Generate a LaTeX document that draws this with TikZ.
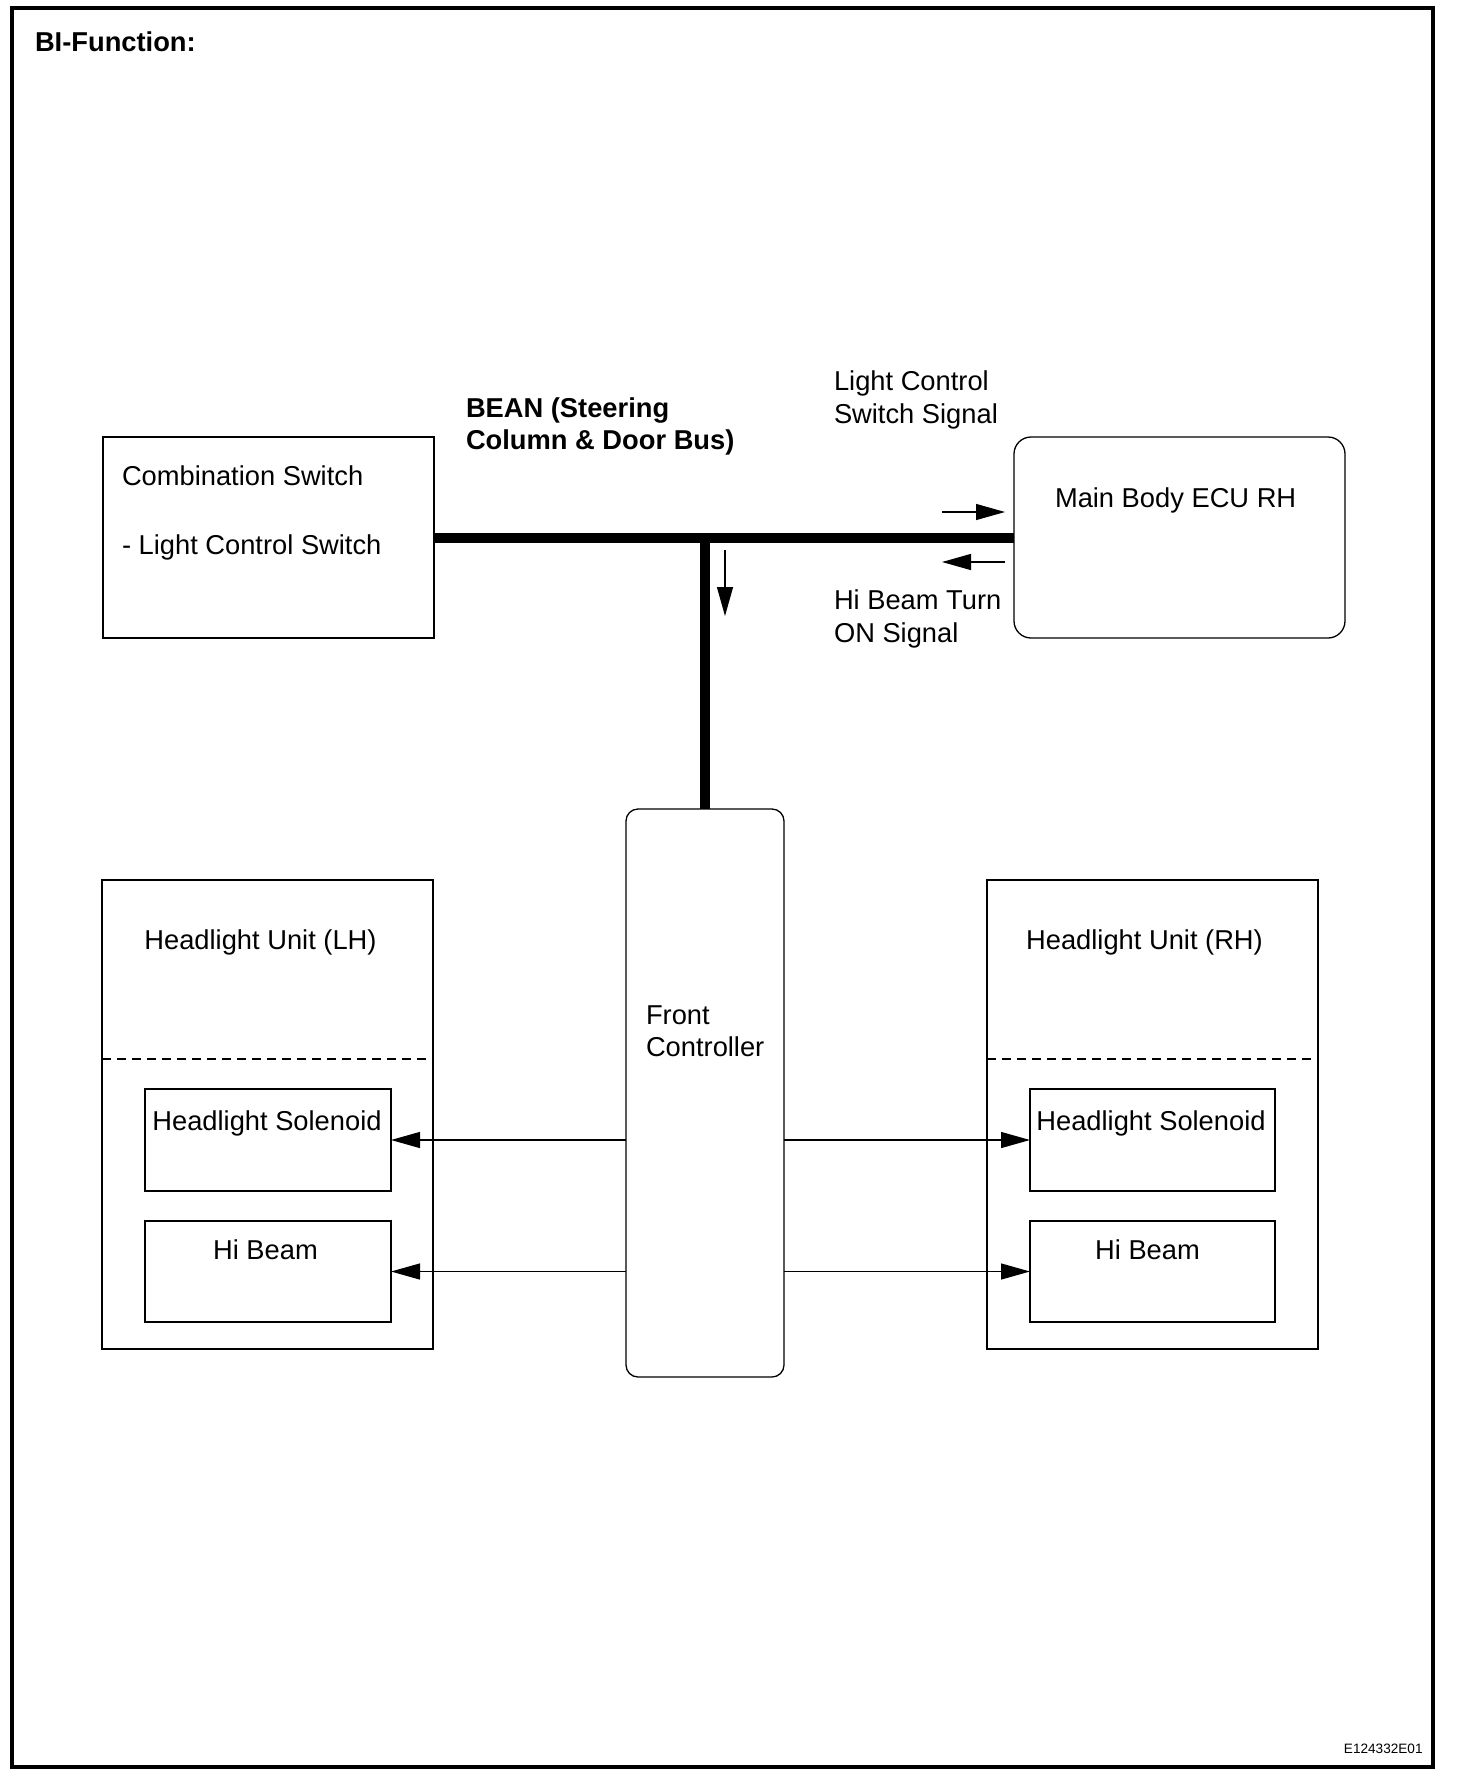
\documentclass[tikz,border=0pt]{standalone}
\usepackage{fontspec}
\setmainfont{Liberation Sans}
\usetikzlibrary{arrows.meta,fit}
\begin{document}
\begin{tikzpicture}[x=0.5pt,y=-0.5pt,
  box/.style={draw, line width=0.65pt, inner sep=0pt, outer sep=0pt},
  txt/.style={inner sep=0pt, outer sep=0pt, anchor=base west, font=\fontsize{13.65pt}{16pt}\selectfont},
  ctxt/.style={txt, anchor=base},
  btxt/.style={txt, font=\fontsize{13.65pt}{16pt}\selectfont\bfseries},
  arr/.style={line width=0.65pt, -{Triangle[length=14.5pt,width=8pt]}},
  bus/.style={line width=5pt},
  dashline/.style={line width=0.65pt, dash pattern=on 4.5pt off 3pt}]
\useasboundingbox (0,0) rectangle (1456,1782);
% frame
\node[box, line width=1.75pt, fit={(12,8) (1433,1767)}] (frame) {};
\node[btxt] (title) at (35,52) {BI-Function:};
% boxes
\node[box, fit={(103,437) (434,638)}] (cs) {};
\node[box, rounded corners=8.5pt, fit={(1014,437) (1345,638)}] (ecu) {};
\node[box, rounded corners=6pt, fit={(626,809) (784,1377)}] (fc) {};
\node[box, fit={(102,880) (433,1349)}] (lh) {};
\node[box, fit={(145,1089) (391,1191)}] (lsol) {};
\node[box, fit={(145,1221) (391,1322)}] (lhb) {};
\node[box, fit={(987,880) (1318,1349)}] (rh) {};
\node[box, fit={(1030,1089) (1275,1191)}] (rsol) {};
\node[box, fit={(1030,1221) (1275,1322)}] (rhb) {};
% dashed separators
\coordinate (lhdl) at (102,1059); \coordinate (lhdr) at (433,1059);
\coordinate (rhdl) at (987,1059); \coordinate (rhdr) at (1318,1059);
\draw[dashline] (lhdl) -- (lhdr);
\draw[dashline] (rhdl) -- (rhdr);
% texts
\node[txt] (cs1) at (122,485) {Combination Switch};
\node[txt] (cs2) at (122,554) {- Light Control Switch};
\node[btxt] (bean1) at (466,417) {BEAN (Steering};
\node[btxt] (bean2) at (466,449) {Column \& Door Bus)};
\node[txt] (lcs1) at (834,390) {Light Control};
\node[txt] (lcs2) at (834,423) {Switch Signal};
\node[txt] (ecut) at (1055,507) {Main Body ECU RH};
\node[txt] (hbt1) at (834,609) {Hi Beam Turn};
\node[txt] (hbt2) at (834,642) {ON Signal};
\node[txt] (fc1) at (646,1024) {Front};
\node[txt] (fc2) at (646,1056) {Controller};
\node[ctxt] (lht) at (260.5,949) {Headlight Unit (LH)};
\node[ctxt] (lsolt) at (267,1130) {Headlight Solenoid};
\node[ctxt] (lhbt) at (265.5,1259) {Hi Beam};
\node[ctxt] (rht) at (1144.5,949) {Headlight Unit (RH)};
\node[ctxt] (rsolt) at (1151,1130) {Headlight Solenoid};
\node[ctxt] (rhbt) at (1147.5,1259) {Hi Beam};
\node[inner sep=0pt, anchor=base east, font=\fontsize{6.8pt}{8pt}\selectfont] (code) at (1423,1753) {E124332E01};
% bus
\draw[bus] (cs.east) -- (ecu.west);
\draw[bus] (fc.north |- cs.east) -- (fc.north);
% signal arrows
\coordinate (s1a) at (942,512); \coordinate (s1b) at (1005,512);
\coordinate (s2a) at (1005,562); \coordinate (s2b) at (942,562);
\coordinate (s3a) at (725,550); \coordinate (s3b) at (725,616);
\draw[arr] (s1a) -- (s1b);
\draw[arr] (s2a) -- (s2b);
\draw[arr] (s3a) -- (s3b);
% controller outputs
\draw[arr] (fc.west |- lsol.east) -- (lsol.east);
\draw[arr] (fc.west |- lhb.east) -- (lhb.east);
\draw[arr] (fc.east |- rsol.west) -- (rsol.west);
\draw[arr] (fc.east |- rhb.west) -- (rhb.west);
\end{tikzpicture}
\end{document}
